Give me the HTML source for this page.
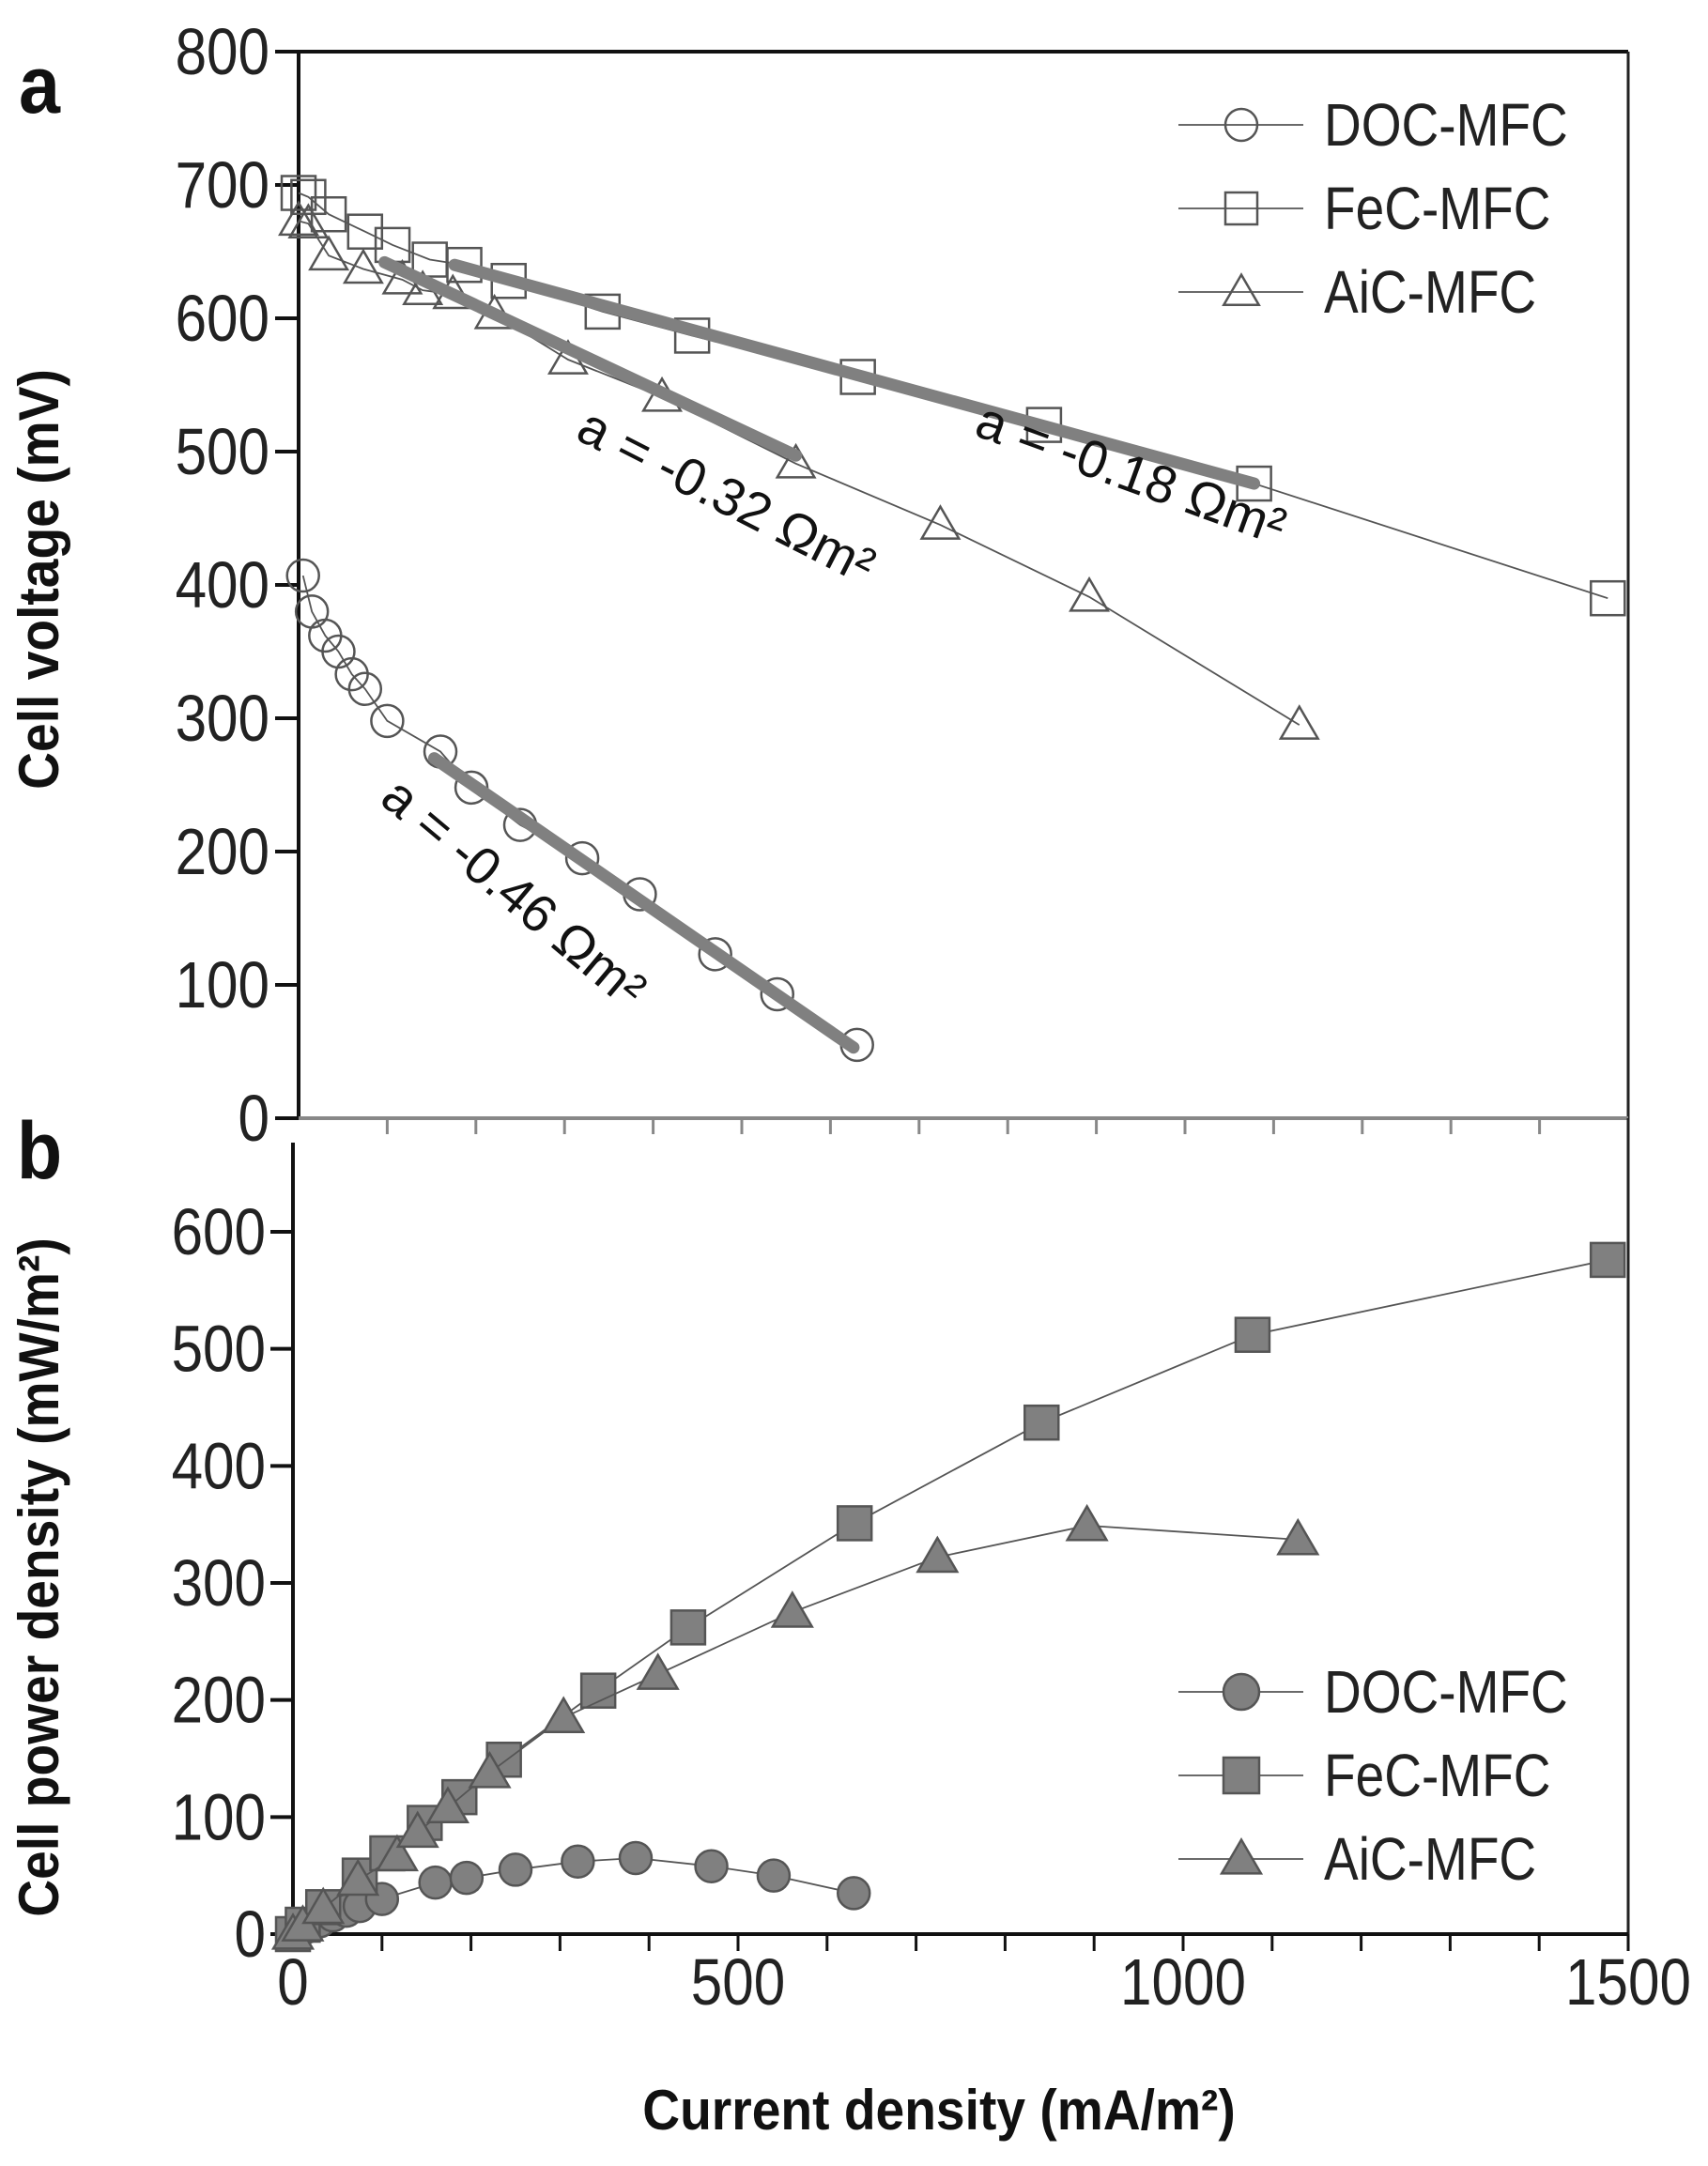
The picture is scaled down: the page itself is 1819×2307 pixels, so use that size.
<!DOCTYPE html>
<html><head><meta charset="utf-8"><style>
html,body{margin:0;padding:0;background:#fff}
svg{display:block}
text{font-family:"Liberation Sans",sans-serif}
</style></head><body>
<svg id="chart" width="1819" height="2307" viewBox="0 0 1819 2307" xmlns="http://www.w3.org/2000/svg"></svg>
<script>
// ---- data (current density mA/m2, voltage mV, power mW/m2) ----
const docI = [5,15,30,45,60,75,100,160,195,250,320,385,470,540,630];
const docV = [407,380,362,350,333,322,298,275,248,220,195,168,123,93,55];
const docP = [2,6,11,16,20,24,30,44,48,55,62,65,58,50,35];
const fecI = [0,11,34,75,106,148,187,237,343,444,631,841,1078,1477];
const fecV = [694,691,678,665,655,644,640,628,605,587,556,520,476,390];
const fecP = [0,8,23,50,69,95,117,149,208,262,351,437,512,576];
const aicI = [0,11,34,73,117,140,174,221,304,410,561,724,892,1129];
const aicV = [673,671,647,637,629,621,618,603,569,541,491,445,391,295];
const aicP = [0,7,22,46,67,87,108,138,185,222,275,322,349,337];
const fitDoc = [[153,270],[626,53]];
const fitFec = [[176,640],[1078,476]];
const fitAic = [[97,642],[561,497]];
const yTicksA = [0,100,200,300,400,500,600,700,800];
const yTicksB = [0,100,200,300,400,500,600];
const xTicks = [0,500,1000,1500];

const NS="http://www.w3.org/2000/svg";
const svg=document.getElementById('chart');
function mk(tag,attrs,parent){const e=document.createElementNS(NS,tag);for(const k in attrs)e.setAttribute(k,attrs[k]);(parent||svg).appendChild(e);return e;}
const xa=v=>318+v*(1734-318)/1500;
const ya=v=>1191-v*(1191-55)/800;
const xb=v=>312+v*(1734-312)/1500;
const yb=v=>2060-v*(2060-1312)/600;
const SX=0.86;
function ctext(parent,s,x,y,size,anchor,extra){
 const t=mk('text',{x:0,y:0,'text-anchor':anchor,'font-size':size,fill:'#222',transform:`translate(${x} ${y}) scale(${SX} 1)`},parent);
 if(extra)for(const k in extra)t.setAttribute(k,extra[k]);
 t.textContent=s;return t;
}

let g=mk('g',{});


mk('line',{x1:318,y1:55,x2:1734,y2:55,stroke:'#111','stroke-width':4},g);
mk('line',{x1:318,y1:55,x2:318,y2:1191,stroke:'#111','stroke-width':4},g);
mk('line',{x1:1734,y1:55,x2:1734,y2:1191,stroke:'#222','stroke-width':3},g);
mk('line',{x1:318,y1:1191,x2:1734,y2:1191,stroke:'#888','stroke-width':4},g);
for(let i=1;i<=15;i++){const x=xa(i*100);mk('line',{x1:x,y1:1191,x2:x,y2:1208,stroke:'#888','stroke-width':3},g);}
yTicksA.forEach(v=>{const y=ya(v);mk('line',{x1:293,y1:y,x2:318,y2:y,stroke:'#111','stroke-width':4},g);
 const t=ctext(g,v,287,y+24,70,'end');
 });
g=mk('g',{});


mk('line',{x1:312,y1:1217,x2:312,y2:2060,stroke:'#111','stroke-width':4},g);
mk('line',{x1:1734,y1:1191,x2:1734,y2:2060,stroke:'#222','stroke-width':3},g);
mk('line',{x1:312,y1:2060,x2:1734,y2:2060,stroke:'#111','stroke-width':4},g);
for(let i=0;i<=15;i++){const x=xb(i*100);mk('line',{x1:x,y1:2060,x2:x,y2:2078,stroke:'#111','stroke-width':3},g);}
yTicksB.forEach(v=>{const y=yb(v);mk('line',{x1:288,y1:y,x2:312,y2:y,stroke:'#111','stroke-width':4},g);
 const t=ctext(g,v,283,y+24,70,'end');
 });
xTicks.forEach(v=>{const t=ctext(g,v,xb(v),2135,70,'middle');
 });

function marker(type,x,y,fill,s,parent){
 if(type==='c') return mk('circle',{cx:x,cy:y,r:s*0.5,fill:fill,stroke:'#555','stroke-width':2.5},parent);
 if(type==='s') return mk('rect',{x:x-s/2,y:y-s/2,width:s,height:s,fill:fill,stroke:'#555','stroke-width':2.5},parent);
 const h=s*0.9;return mk('polygon',{points:`${x},${y-h*0.6} ${x-s*0.55},${y+h*0.45} ${x+s*0.55},${y+h*0.45}`,fill:fill,stroke:'#555','stroke-width':2.5},parent);
}
function series(name,I,Y,xf,yf,type,fill,s){
 const gg=mk('g',{});
 
 
 mk('polyline',{points:I.map((v,i)=>xf(v)+','+yf(Y[i])).join(' '),fill:'none',stroke:'#555','stroke-width':1.8},gg);
 I.forEach((v,i)=>{const m=marker(type,xf(v),yf(Y[i]),fill,s,gg);});
 return gg;
}
series('doc-voltage-series',docI,docV,xa,ya,'c','none',34);
series('fec-voltage-series',fecI,fecV,xa,ya,'s','none',36);
series('aic-voltage-series',aicI,aicV,xa,ya,'t','none',36);
[['doc-fit-line',fitDoc],['fec-fit-line',fitFec],['aic-fit-line',fitAic]].forEach(([n,f])=>{
 const l=mk('line',{x1:xa(f[0][0]),y1:ya(f[0][1]),x2:xa(f[1][0]),y2:ya(f[1][1]),stroke:'#808080','stroke-width':13,'stroke-linecap':'round'});
 });
series('doc-power-series',docI,docP,xb,yb,'c','#808080',34);
series('fec-power-series',fecI,fecP,xb,yb,'s','#808080',36);
series('aic-power-series',aicI,aicP,xb,yb,'t','#808080',38);

function ann(name,txt,x,y,ang){const t=mk('text',{x:x,y:y,'text-anchor':'middle','font-size':56,fill:'#111',transform:`rotate(${ang} ${x} ${y})`});
 t.textContent=txt;}
ann('slope-label-aic','a = -0.32 Ωm²',765,545,27);
ann('slope-label-fec','a = -0.18 Ωm²',1198,522,20);
ann('slope-label-doc','a = -0.46 Ωm²',535,965,40);

function legend(name,y0,fill){
 const gg=mk('g',{});
 
 
 [['DOC-MFC','c'],['FeC-MFC','s'],['AiC-MFC','t']].forEach((e,i)=>{
  const y=y0+i*89;
  const eg=mk('g',{},gg);
  
  
  mk('line',{x1:1255,y1:y,x2:1388,y2:y,stroke:'#555','stroke-width':1.8},eg);
  marker(e[1],1322,y,fill,fill==='none'?34:38,eg);
  ctext(eg,e[0],1410,y+22,64,'start');
 });
}
legend('legend-a',133,'none');
legend('legend-b',1802,'#808080');

function txt(name,s,x,y,size,bold,rot){
 const tr=`translate(${x} ${y})`+(rot?` rotate(${rot})`:'')+` scale(0.92 1)`;
 const t=mk('text',{x:0,y:0,'text-anchor':'middle','font-size':size,'font-weight':bold?'bold':'normal',fill:'#111',transform:tr});
 t.textContent=s;}
txt('y-axis-title-a','Cell voltage (mV)',62,617,60,true,-90);
txt('y-axis-title-b','Cell power density (mW/m²)',62,1680,60,true,-90);
txt('x-axis-title','Current density (mA/m²)',1000,2268,60,true,0);
txt('panel-label-a','a',42,120,86,true,0);
txt('panel-label-b','b',42,1255,86,true,0);
</script>
</body></html>
